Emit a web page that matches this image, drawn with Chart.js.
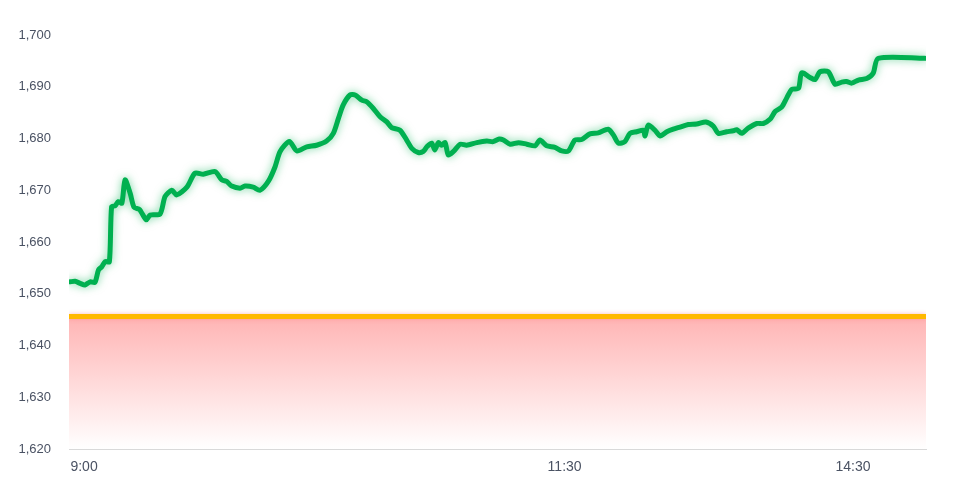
<!DOCTYPE html>
<html>
<head>
<meta charset="utf-8">
<script src="https://cdn.jsdelivr.net/npm/chart.js@4.4.1/dist/chart.umd.min.js"></script>
<style>
  html, body { margin: 0; padding: 0; background: #ffffff; }
  #wrap { width: 975px; height: 478px; }
</style>
</head>
<body>
<div id="wrap"><canvas id="c" width="975" height="478"></canvas></div>
<script>
// Session minutes since 9:00 (lunch break removed: 11:30 -> 150, 14:30 -> 240)
const minutes = [
  -4.4, -2.8, -1.2, 0.3, 1.9, 3.4, 4.5, 5.5, 6.6, 7.9,
  8.6, 9.7, 10.7, 11.8, 12.8, 14.4, 15.6, 17.3, 19.4, 20.6,
  23.7, 25.3, 27.4, 28.9, 32.1, 34.6, 37.2, 40.9, 43.0, 44.5,
  46.1, 48.7, 50.2, 52.8, 54.9, 57.5, 59.6, 61.2, 64.1, 66.4,
  69.5, 72.6, 75.7, 77.8, 79.4, 80.9, 83.0, 84.6, 86.7, 88.2,
  90.3, 92.4, 94.5, 96.0, 98.6, 100.7, 102.3, 104.3, 105.9, 107.0,
  108.5, 109.5, 110.6, 111.6, 112.7, 113.7, 115.3, 117.4, 119.4, 122.6,
  125.7, 127.7, 129.6, 130.9, 133.0, 135.6, 138.2, 140.8, 142.3, 144.4,
  147.0, 149.1, 151.2, 153.2, 155.3, 157.9, 160.5, 163.6, 165.2, 166.8,
  168.8, 170.4, 172.5, 174.6, 175.1, 176.1, 178.2, 179.8, 181.9, 183.9,
  186.0, 188.6, 191.2, 194.1, 196.4, 198.0, 200.6, 202.7, 203.7, 205.3,
  207.3, 210.0, 212.0, 214.1, 215.7, 217.8, 219.3, 220.9, 223.0, 224.0,
  226.6, 228.2, 229.7, 232.3, 234.4, 236.5, 238.0, 239.6, 241.7, 244.3,
  246.3, 247.9, 262.5
];
const prices = [
  1652.3, 1652.4, 1652.0, 1651.7, 1652.3, 1652.2, 1654.6, 1655.2, 1656.2, 1656.2,
  1666.8, 1667.0, 1667.8, 1667.5, 1672.0, 1669.4, 1666.7, 1666.3, 1664.3, 1665.2,
  1665.4, 1668.8, 1670.0, 1669.1, 1670.6, 1673.3, 1673.1, 1673.6, 1672.0, 1671.7,
  1670.8, 1670.4, 1670.8, 1670.6, 1670.0, 1671.7, 1674.5, 1677.5, 1679.4, 1677.6,
  1678.4, 1678.7, 1679.5, 1681.0, 1683.9, 1686.5, 1688.4, 1688.4, 1687.4, 1687.1,
  1685.8, 1684.2, 1683.2, 1682.1, 1681.6, 1679.7, 1678.1, 1677.3, 1677.5, 1678.4,
  1679.1, 1677.8, 1679.2, 1678.7, 1679.2, 1676.8, 1677.5, 1678.9, 1678.7, 1679.2,
  1679.5, 1679.4, 1679.9, 1679.7, 1678.9, 1679.2, 1678.9, 1678.6, 1679.7, 1678.6,
  1678.3, 1677.6, 1677.6, 1679.7, 1679.8, 1680.9, 1681.1, 1681.8, 1680.7, 1679.1,
  1679.4, 1681.0, 1681.3, 1681.6, 1680.5, 1682.6, 1681.6, 1680.5, 1681.3, 1681.8,
  1682.2, 1682.7, 1682.8, 1683.2, 1682.4, 1681.0, 1681.3, 1681.5, 1681.7, 1681.0,
  1682.0, 1682.9, 1682.9, 1683.7, 1685.2, 1686.1, 1687.8, 1689.5, 1689.7, 1692.7,
  1691.8, 1691.4, 1692.9, 1692.9, 1690.5, 1690.9, 1691.0, 1690.7, 1691.3, 1691.6,
  1692.6, 1695.5, 1695.5
];
const prevClose = 1645.6;
const axisMinMinute = -4.7;
const axisMaxMinute = 262.8;
const tickMinutes = [0, 150, 240];
const tickLabels = ['9:00', '11:30', '14:30'];
const yTicks = [1620, 1630, 1640, 1650, 1660, 1670, 1680, 1690, 1700];

const pricePoints = minutes.map((m, i) => ({ x: m, y: prices[i] }));
const closePoints = [{ x: axisMinMinute, y: prevClose }, { x: axisMaxMinute, y: prevClose }];

const glow = {
  id: 'glow',
  beforeDatasetDraw(chart, args) {
    const c = chart.ctx;
    c.save();
    if (args.index === 0) {
      c.shadowColor = 'rgba(0,176,80,0.55)';
      c.shadowBlur = 8;
    } else if (args.index === 1) {
      c.shadowColor = 'rgba(255,120,120,0.5)';
      c.shadowBlur = 4;
    }
  },
  afterDatasetDraw(chart) {
    chart.ctx.restore();
  }
};

new Chart(document.getElementById('c'), {
  type: 'line',
  data: {
    datasets: [
      {
        data: pricePoints,
        borderColor: '#00b050',
        borderWidth: 5,
        pointRadius: 0,
        tension: 0.25,
        borderJoinStyle: 'round',
        borderCapStyle: 'round',
        fill: false
      },
      {
        data: closePoints,
        borderColor: '#ffb900',
        borderWidth: 5,
        pointRadius: 0,
        fill: false
      },
      {
        data: closePoints,
        borderWidth: 0,
        pointRadius: 0,
        fill: 'start',
        backgroundColor: (ctx) => {
          const chart = ctx.chart;
          const area = chart.chartArea;
          if (!area) return 'rgba(255,190,190,0.6)';
          const top = chart.scales.y.getPixelForValue(prevClose);
          const g = chart.ctx.createLinearGradient(0, top, 0, area.bottom);
          g.addColorStop(0, 'rgb(255,180,180)');
          g.addColorStop(1, 'rgb(255,255,255)');
          return g;
        }
      }
    ]
  },
  options: {
    responsive: false,
    animation: false,
    layout: { padding: { left: 18, right: 49, top: 35, bottom: 0 } },
    plugins: { legend: { display: false }, tooltip: { enabled: false } },
    scales: {
      x: {
        type: 'linear',
        min: axisMinMinute,
        max: axisMaxMinute,
        afterBuildTicks: (scale) => { scale.ticks = tickMinutes.map(v => ({ value: v })); },
        afterFit: (scale) => { scale.height = 29; scale.paddingLeft = 0; scale.paddingRight = 0; },
        ticks: {
          autoSkip: false,
          maxRotation: 0,
          padding: 10,
          color: '#4a5263',
          font: { family: '"Liberation Sans", Arial, sans-serif', size: 14 },
          callback: (v) => {
            const i = tickMinutes.indexOf(v);
            return i >= 0 ? tickLabels[i] : '';
          }
        },
        grid: { display: false, drawTicks: false },
        border: { display: true, color: '#d9d9d9', width: 1 }
      },
      y: {
        min: 1620,
        max: 1700,
        afterBuildTicks: (scale) => { scale.ticks = yTicks.map(v => ({ value: v })); },
        afterFit: (scale) => { scale.width = 51; scale.paddingTop = 0; scale.paddingBottom = 0; },
        ticks: {
          padding: 18,
          color: '#4a5263',
          font: { family: '"Liberation Sans", Arial, sans-serif', size: 13 },
          callback: (v) => v.toLocaleString('en-US')
        },
        grid: { display: false, drawTicks: false },
        border: { display: false }
      }
    }
  },
  plugins: [glow]
});
</script>
</body>
</html>
